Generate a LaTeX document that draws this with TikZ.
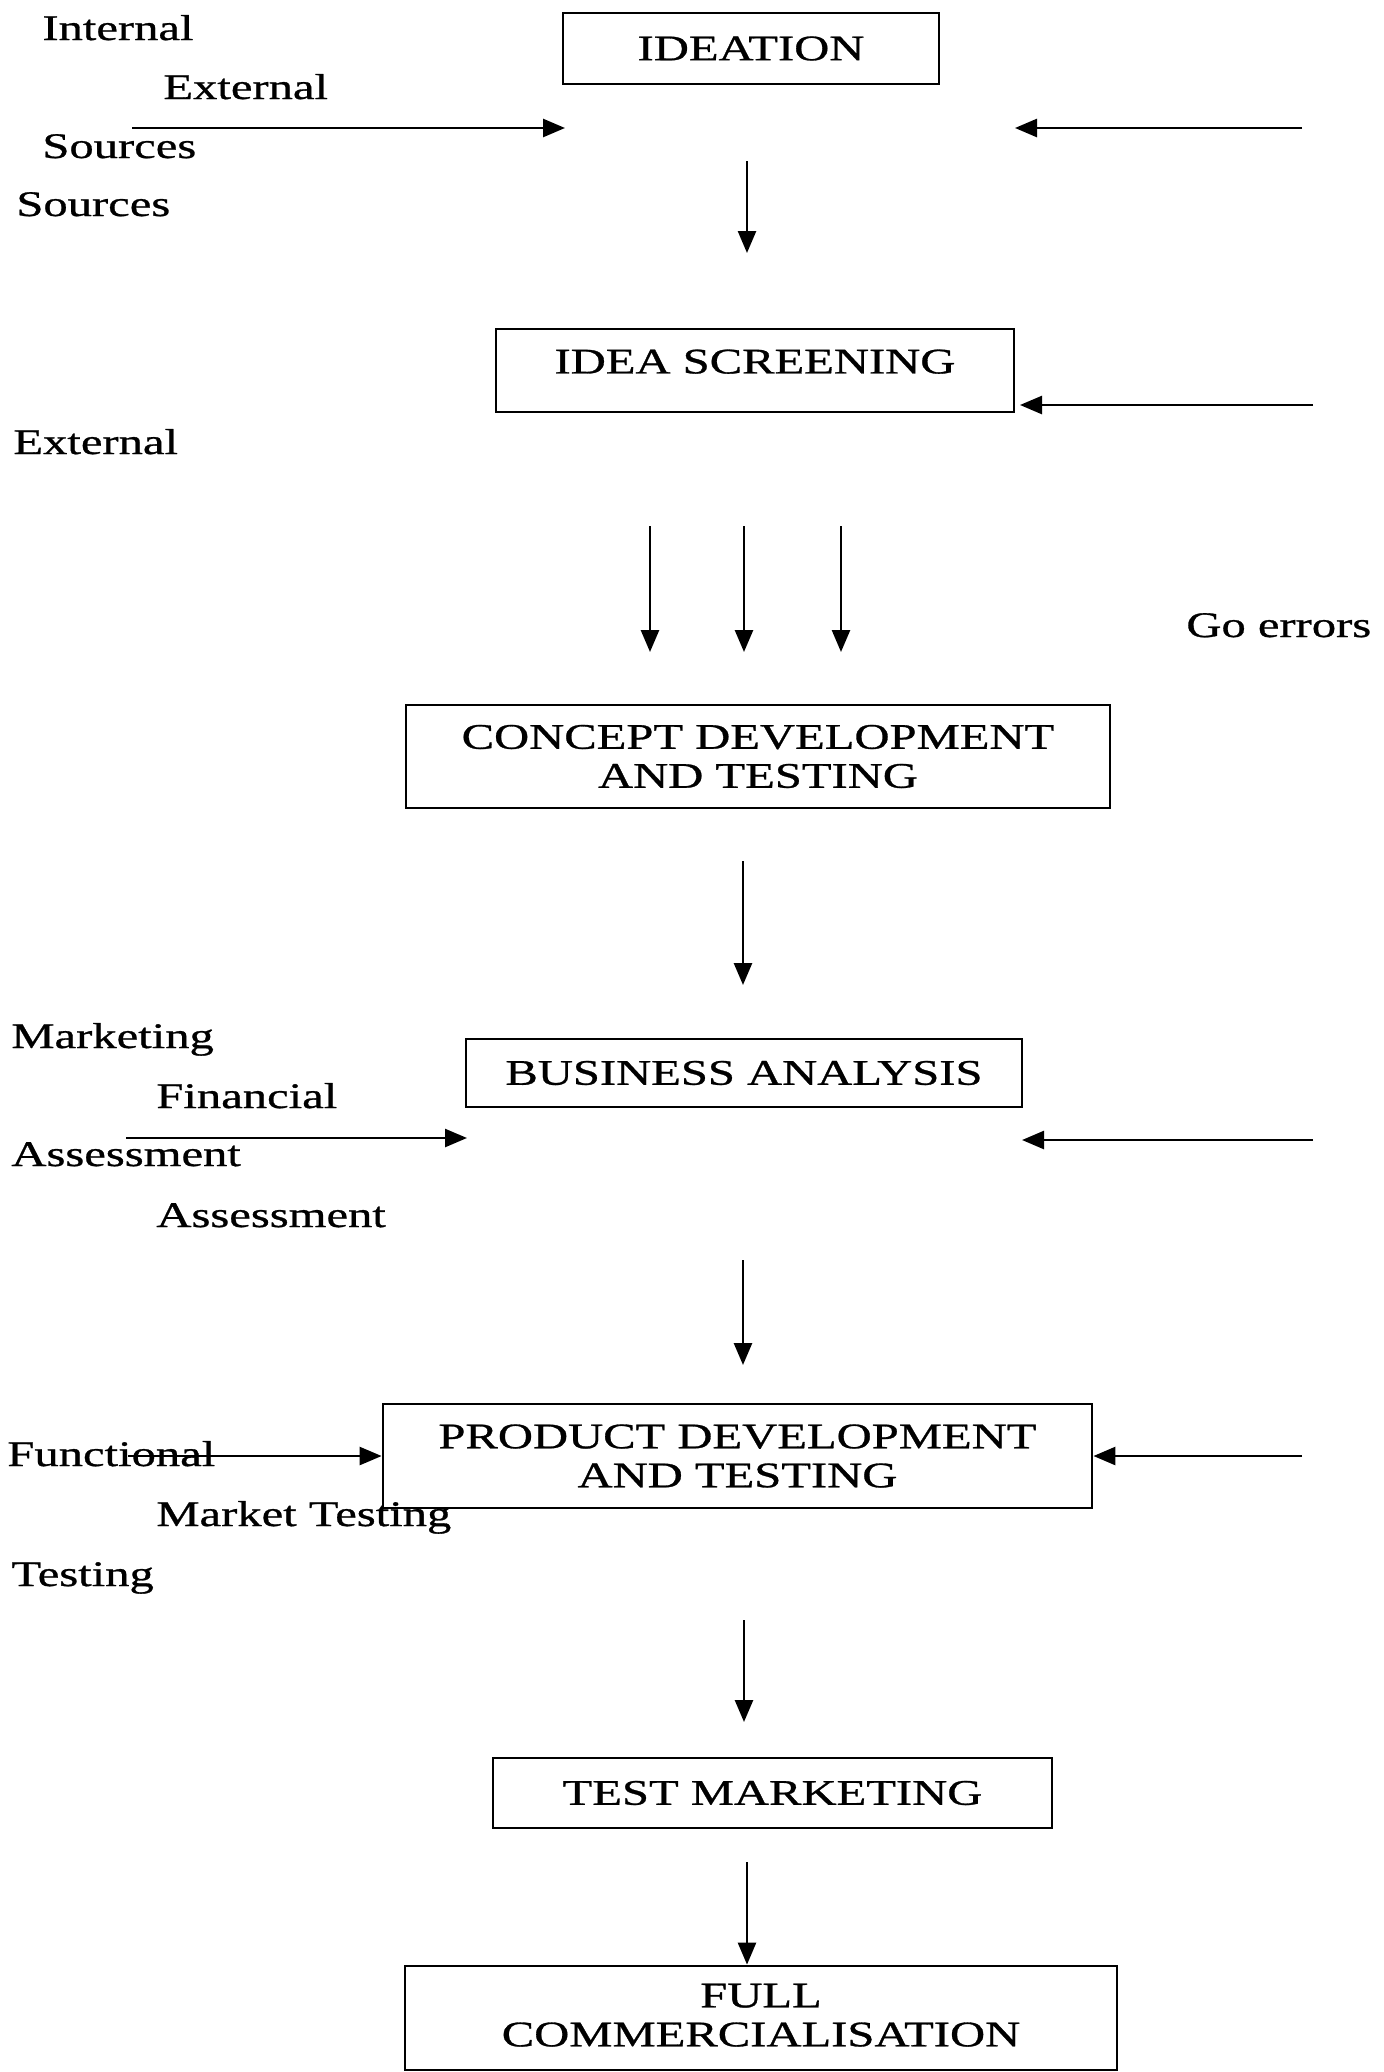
\documentclass[tikz,border=0pt]{standalone}
\usepackage{fontspec}
\setmainfont{Liberation Serif}[FakeStretch=1.35,FakeBold=0.8]
\usetikzlibrary{arrows.meta}
\begin{document}
\begin{tikzpicture}[x=0.5pt,y=-0.5pt,
  every node/.style={font=\fontsize{18pt}{19.5pt}\selectfont},
  box/.style={draw, line width=1.4pt, inner sep=0pt, align=center},
  lab/.style={anchor=base west, inner sep=0pt},
  arr/.style={line width=1.3pt, -{Triangle[length=11pt,width=9pt]}}]
\useasboundingbox (0,0) rectangle (1383,2072);

% boxes
\node[box, minimum width=188pt, minimum height=35.5pt] (ideation) at (751,48.5) {IDEATION};
\node[box, minimum width=259pt, minimum height=41.5pt, text depth=9pt] (screen) at (755,370.5) {IDEA SCREENING};
\node[box, minimum width=352pt, minimum height=51.5pt] (concept) at (758,756.5) {CONCEPT DEVELOPMENT\\AND TESTING};
\node[box, minimum width=278pt, minimum height=34pt] (business) at (744,1073) {BUSINESS ANALYSIS};
\node[box, minimum width=354.5pt, minimum height=52pt] (product) at (737.5,1456) {PRODUCT DEVELOPMENT\\AND TESTING};
\node[box, minimum width=279.5pt, minimum height=35pt] (testm) at (772.5,1793) {TEST MARKETING};
\node[box, minimum width=356pt, minimum height=52pt, text depth=3pt] (full) at (761,2018) {FULL\\COMMERCIALISATION};

% side labels
\node[lab] (tInternal) at (42,40) {Internal};
\node[lab] (tExternalA) at (163,99) {External};
\node[lab] (tSourcesA) at (42,158) {Sources};
\node[lab] (tSourcesB) at (16,216) {Sources};
\node[lab] (tExternalB) at (13,454) {External};
\node[lab] (tGo) at (1186,637) {Go errors};
\node[lab] (tMarketing) at (11,1048) {Marketing};
\node[lab] (tFinancial) at (156,1108) {Financial};
\node[lab] (tAssessA) at (11,1166) {Assessment};
\node[lab] (tAssessB) at (156,1227) {Assessment};
\node[lab] (tFunctional) at (7,1466) {Functional};
\node[lab] (tMarketTesting) at (156,1526) {Market Testing};
\node[lab] (tTesting) at (11,1586) {Testing};

% connector end points
\coordinate (a1s) at (132,128);  \coordinate (a1e) at (565,128);
\coordinate (a2s) at (1302,128); \coordinate (a2e) at (1015,128);
\coordinate (d1s) at (747,161);  \coordinate (d1e) at (747,253);
\coordinate (a3s) at (1313,405); \coordinate (a3e) at (1020,405);
\coordinate (d2as) at (650,526); \coordinate (d2ae) at (650,652);
\coordinate (d2bs) at (744,526); \coordinate (d2be) at (744,652);
\coordinate (d2cs) at (841,526); \coordinate (d2ce) at (841,652);
\coordinate (d3s) at (743,861);  \coordinate (d3e) at (743,985);
\coordinate (a4s) at (126,1138); \coordinate (a4e) at (467,1138);
\coordinate (a5s) at (1313,1140);\coordinate (a5e) at (1022,1140);
\coordinate (d4s) at (743,1260); \coordinate (d4e) at (743,1365);
\coordinate (a6s) at (128,1456);
\coordinate (a7s) at (1302,1456);
\coordinate (d5s) at (744,1620); \coordinate (d5e) at (744,1722);
\coordinate (d6s) at (747,1862);

% connectors
\draw[arr] (a1s) -- (a1e);
\draw[arr] (a2s) -- (a2e);
\draw[arr] (d1s) -- (d1e);
\draw[arr] (a3s) -- (a3e);
\draw[arr] (d2as) -- (d2ae);
\draw[arr] (d2bs) -- (d2be);
\draw[arr] (d2cs) -- (d2ce);
\draw[arr] (d3s) -- (d3e);
\draw[arr] (a4s) -- (a4e);
\draw[arr] (a5s) -- (a5e);
\draw[arr] (d4s) -- (d4e);
\draw[arr] (a6s) -- (product.west);
\draw[arr] (a7s) -- (product.east);
\draw[arr] (d5s) -- (d5e);
\draw[arr] (d6s) -- (d6s |- full.north);
\end{tikzpicture}
\end{document}
